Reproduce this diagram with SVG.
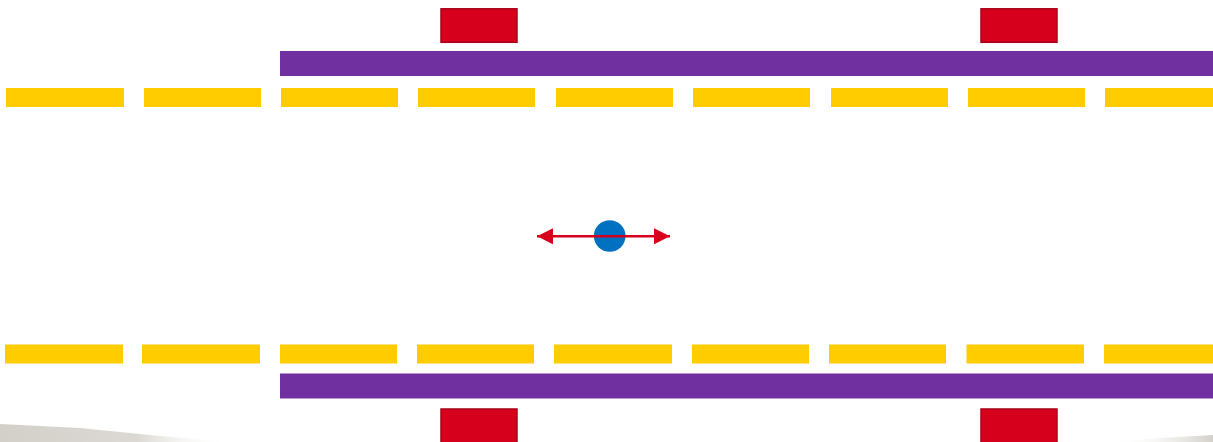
<svg xmlns="http://www.w3.org/2000/svg" width="1213" height="442" viewBox="0 0 1213 442">
<style>
.lane{fill:#ffcc00}
.rail{fill:#7030a0}
.stop{fill:#d6001c;stroke:#a8001a;stroke-width:1.5}
.move{stroke:#d6001c;stroke-width:2.5;fill:none}
</style>
<defs>
<linearGradient id="shL" x1="0" y1="0" x2="1" y2="0">
<stop offset="0" stop-color="#d3d0ca"/>
<stop offset="0.6" stop-color="#dcd9d4"/>
<stop offset="1" stop-color="#ffffff" stop-opacity="0"/>
</linearGradient>
<linearGradient id="shR" x1="1" y1="0" x2="0" y2="0">
<stop offset="0" stop-color="#d3d0ca"/>
<stop offset="1" stop-color="#ffffff" stop-opacity="0"/>
</linearGradient>
<marker id="ah" viewBox="0 0 16 16" refX="16" refY="8" markerWidth="16" markerHeight="16" markerUnits="userSpaceOnUse" orient="auto-start-reverse">
<path d="M0,0 L16,8 L0,16 Z" fill="#d6001c"/>
</marker>
</defs>
<rect width="1213" height="442" fill="#ffffff"/>
<g id="shadow">
<polygon points="0,424 80,428 160,436 230,442 0,442" fill="url(#shL)"/>
<polygon points="1213,435 1160,438 1110,442 1213,442" fill="url(#shR)"/>
</g>
<g id="top-lane">
<rect class="lane" x="6" y="88" width="118" height="19"/>
<rect class="lane" x="144" y="88" width="117" height="19"/>
<rect class="lane" x="281" y="88" width="117" height="19"/>
<rect class="lane" x="418" y="88" width="117" height="19"/>
<rect class="lane" x="556" y="88" width="117" height="19"/>
<rect class="lane" x="693" y="88" width="117" height="19"/>
<rect class="lane" x="831" y="88" width="117" height="19"/>
<rect class="lane" x="968" y="88" width="117" height="19"/>
<rect class="lane" x="1105" y="88" width="108" height="19"/>
</g>
<g id="bottom-lane">
<rect class="lane" x="5" y="344.5" width="118" height="19"/>
<rect class="lane" x="142" y="344.5" width="118" height="19"/>
<rect class="lane" x="280" y="344.5" width="117" height="19"/>
<rect class="lane" x="417" y="344.5" width="117" height="19"/>
<rect class="lane" x="554" y="344.5" width="118" height="19"/>
<rect class="lane" x="692" y="344.5" width="117" height="19"/>
<rect class="lane" x="829" y="344.5" width="117" height="19"/>
<rect class="lane" x="966.5" y="344.5" width="117.5" height="19"/>
<rect class="lane" x="1104" y="344.5" width="109" height="19"/>
</g>
<g id="top-rail"><rect class="rail" x="280" y="51" width="933" height="25"/></g>
<g id="bottom-rail"><rect class="rail" x="280" y="373.5" width="933" height="25"/></g>
<g id="stop-top-left"><rect class="stop" x="441" y="8.8" width="76" height="33.5"/></g>
<g id="stop-top-right"><rect class="stop" x="981" y="8.8" width="76" height="33.5"/></g>
<g id="stop-bottom-left"><rect class="stop" x="441" y="409" width="76" height="36"/></g>
<g id="stop-bottom-right"><rect class="stop" x="981" y="409" width="76" height="36"/></g>
<g id="point"><circle cx="609.7" cy="236" r="15.8" fill="#0070c0"/></g>
<g id="connectors">
<line class="move" x1="537" y1="236.3" x2="670" y2="236.3" marker-start="url(#ah)" marker-end="url(#ah)"/>
</g>
</svg>
